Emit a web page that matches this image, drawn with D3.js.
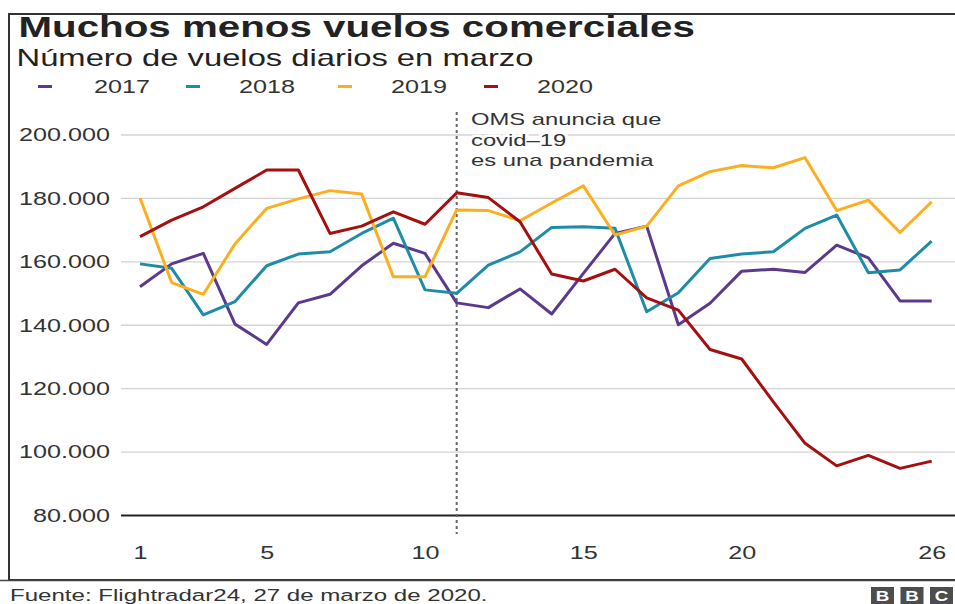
<!DOCTYPE html>
<html>
<head>
<meta charset="utf-8">
<script src="https://cdn.jsdelivr.net/npm/d3@7"></script>
<style>
body { margin: 0; background: #fff; }
svg { display: block; font-family: "Liberation Sans", Arial, sans-serif; }
</style>
</head>
<body>
<svg width="955" height="604"></svg>
<script>
// days of March
var days = [1, 2, 3, 4, 5, 6, 7, 8, 9, 10, 11, 12, 13, 14, 15, 16, 17, 18, 19, 20, 21, 22, 23, 24, 25, 26];
var years = ["2017", "2018", "2019", "2020"];
var v2017 = [152000, 159200, 162500, 140200, 133800, 146900, 149600, 158600, 165700, 162500, 146900, 145400, 151300,
	143400, 156200, 168800, 171100, 140000, 146800, 156900, 157500, 156500, 165100, 161100, 147500, 147500];
var v2018 = [159200, 157800, 143100, 147300, 158600, 162300, 163000, 168800, 173600, 151000, 149900, 158800, 163000,
	170700, 170900, 170400, 144100, 150100, 160900, 162300, 163000, 170400, 174600, 156400, 157300, 166400];
var v2019 = [180000, 153300, 149600, 165500, 176700, 179700, 182300, 181200, 155100, 155100, 176200, 176000, 172800,
	178400, 183800, 168300, 171100, 183800, 188300, 190200, 189500, 192700, 176000, 179300, 169100, 178800];
var v2020 = [167800, 173000, 177200, 183000, 188800, 188800, 168800, 171100, 175600, 171700, 181600, 180100, 172500,
	156000, 153800, 157500, 148500, 144600, 132200, 129200, 115700, 102600, 95500, 98800, 94700, 97000];
var yTicks = [80000, 100000, 120000, 140000, 160000, 180000, 200000];
var xTicks = [1, 5, 10, 15, 20, 26];
var pandemicDay = 11;
var noteLines = ["OMS anuncia que", "covid\u201319", "es una pandemia"];

var colors = ["#5b3a8e", "#1f8ca7", "#fbaf1f", "#a3100f"];
var series = [v2017, v2018, v2019, v2020];
var SX = 1.4; // the reference text is stretched sideways

var svg = d3.select("svg");
var fmt = d3.formatLocale({ decimal: ",", thousands: ".", grouping: [3], currency: ["", "€"] }).format(",");

var x = d3.scaleLinear().domain([1, 26]).range([140, 931.7]);
var y = d3.scaleLinear().domain([80000, 200000]).range([515, 134.5]);

function label(parent, px, py, txt, size, weight, anchor) {
	return parent.append("text")
		.attr("transform", "translate(" + px + "," + py + ") scale(" + SX + ",1)")
		.attr("font-size", size)
		.attr("font-weight", weight || "normal")
		.attr("text-anchor", anchor || "start")
		.attr("fill", "#222")
		.text(txt);
}

// frame
svg.append("rect").attr("x", 9).attr("y", 14).attr("width", 1000).attr("height", 566)
	.attr("fill", "none").attr("stroke", "#333").attr("stroke-width", 2);
svg.append("line").attr("x1", 0).attr("x2", 955).attr("y1", 580.5).attr("y2", 580.5)
	.attr("stroke", "#444").attr("stroke-width", 1.5);

// titles
label(svg, 18.5, 36.7, "Muchos menos vuelos comerciales", 28.8, "bold");
label(svg, 16.5, 66, "Número de vuelos diarios en marzo", 23.4);

// legend
var legX = [38, 186, 338, 484];
years.forEach(function (yr, i) {
	svg.append("line").attr("x1", legX[i]).attr("x2", legX[i] + 14).attr("y1", 86.5).attr("y2", 86.5)
		.attr("stroke", colors[i]).attr("stroke-width", 3);
	label(svg, [94, 239, 391, 537][i], 93, yr, 18).attr("fill", "#333");
});

// y axis + grid
var gy = svg.append("g").attr("transform", "translate(121,0)")
	.call(d3.axisLeft(y).tickValues(yTicks).tickSize(-(955 - 121)).tickFormat(fmt));
gy.select(".domain").remove();
gy.selectAll(".tick line").attr("stroke", function (d) { return d === 80000 ? "#222" : "#d4d4d4"; })
	.attr("stroke-width", function (d) { return d === 80000 ? 2 : 1.3; });
gy.selectAll(".tick text").attr("x", null).attr("dy", null)
	.attr("transform", "translate(-11,6.3) scale(" + SX + ",1)")
	.attr("font-size", 18).attr("fill", "#333").attr("font-family", null);

// x axis
var gx = svg.append("g").attr("transform", "translate(0,558.5)")
	.call(d3.axisBottom(x).tickValues(xTicks).tickSize(0).tickFormat(d3.format("d")));
gx.select(".domain").remove();
gx.selectAll(".tick text").attr("y", null).attr("dy", null)
	.attr("transform", "scale(" + SX + ",1)")
	.attr("font-size", 18).attr("fill", "#333").attr("font-family", null);

// pandemic marker
svg.append("line").attr("x1", x(pandemicDay)).attr("x2", x(pandemicDay)).attr("y1", 112).attr("y2", 534)
	.attr("stroke", "#666").attr("stroke-width", 2).attr("stroke-dasharray", "3,3");
noteLines.forEach(function (t, i) {
	label(svg, 471, 125 + i * 20.7, t, 17)
		.attr("fill", "#333")
		.attr("stroke", "#fff").attr("stroke-width", 5).attr("paint-order", "stroke");
});

// data lines
var line = d3.line()
	.x(function (d, i) { return x(days[i]); })
	.y(function (d) { return y(d); });

series.forEach(function (s, i) {
	svg.append("path")
		.datum(s)
		.attr("fill", "none")
		.attr("stroke", colors[i])
		.attr("stroke-width", 3)
		.attr("stroke-linejoin", "round")
		.attr("d", line);
});

// source + logo
label(svg, 10, 601, "Fuente: Flightradar24, 27 de marzo de 2020.", 17.2).attr("fill", "#333");
["B", "B", "C"].forEach(function (c, i) {
	var bx = 871 + i * 29.5;
	svg.append("rect").attr("x", bx).attr("y", 587).attr("width", 23).attr("height", 17).attr("fill", "#4d4d4d");
	svg.append("text")
		.attr("transform", "translate(" + (bx + 11.5) + ",601) scale(1.25,1)")
		.attr("text-anchor", "middle").attr("font-size", 15).attr("font-weight", "bold")
		.attr("fill", "#fff").text(c);
});
</script>
</body>
</html>
